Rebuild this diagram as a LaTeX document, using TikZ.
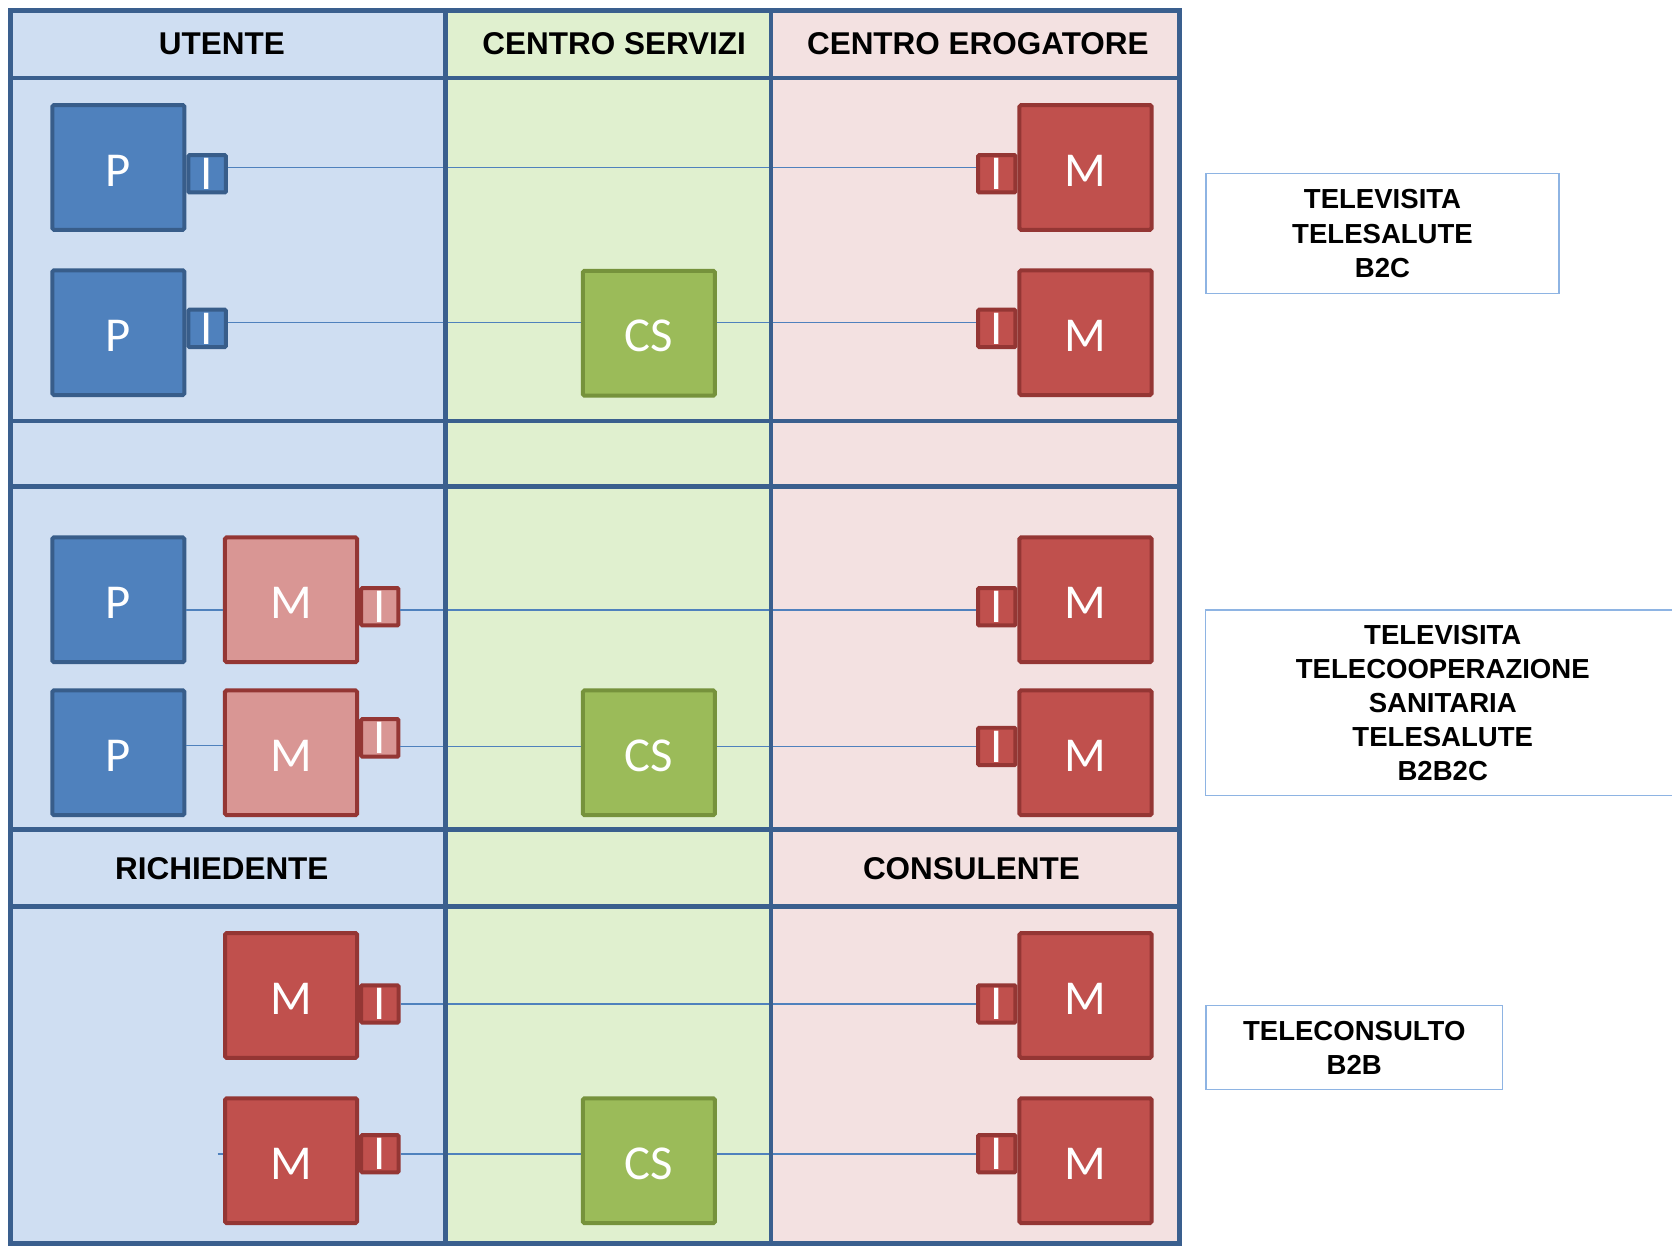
\documentclass[tikz,border=0pt]{standalone}
\usepackage{fontspec}
\newfontfamily\headfont{Liberation Sans}
\newfontfamily\boxfont{Carlito}
\usetikzlibrary{positioning}
\definecolor{framec}{HTML}{3A5F8E}
\definecolor{bluebg}{HTML}{CFDEF2}
\definecolor{greenbg}{HTML}{E0F0CF}
\definecolor{pinkbg}{HTML}{F3E1E1}
\definecolor{pfill}{HTML}{4F81BD}
\definecolor{pdraw}{HTML}{385D8A}
\definecolor{mfill}{HTML}{C0504D}
\definecolor{mdraw}{HTML}{943634}
\definecolor{lmfill}{HTML}{D99694}
\definecolor{csfill}{HTML}{9BBB59}
\definecolor{csdraw}{HTML}{76923C}
\definecolor{wirec}{HTML}{4F81BD}
\definecolor{labdraw}{HTML}{8EB4E3}
\tikzstyle{unit} =[rectangle, rounded corners=0.03cm, line width=0.075cm, minimum width=2.48cm, minimum height=2.34cm, text height=20pt, text depth=0pt, text=white, font=\boxfont\fontsize{26}{26}\selectfont]
\tikzstyle{pbox} =[unit, draw=pdraw, fill=pfill]
\tikzstyle{mbox} =[unit, draw=mdraw, fill=mfill]
\tikzstyle{mlight} =[unit, draw=mdraw, fill=lmfill]
\tikzstyle{csbox} =[unit, draw=csdraw, fill=csfill]
\tikzstyle{itab} =[rectangle, rounded corners=0.02cm, line width=0.075cm, minimum width=0.7cm, minimum height=0.7cm, inner sep=0pt, text depth=-4pt, text=white, font=\boxfont\fontsize{26}{26}\selectfont]
\tikzstyle{itabp} =[itab, draw=pdraw, fill=pfill]
\tikzstyle{itabm} =[itab, draw=mdraw, fill=mfill]
\tikzstyle{itabl} =[itab, draw=mdraw, fill=lmfill]
\tikzstyle{wire} =[line width=0.03cm, draw=wirec]
\tikzstyle{frameline} =[line width=0.085cm, draw=framec]
\tikzstyle{headtext} =[font=\headfont\bfseries\fontsize{16.8}{20}\selectfont]
\tikzstyle{labelbox} =[rectangle, draw=labdraw, line width=0.025cm, align=center, font=\headfont\bfseries\fontsize{14.7}{18.2}\selectfont]

\begin{document}
\begin{tikzpicture}[x=0.02cm, y=-0.02cm, node distance=3.1cm]
\useasboundingbox (0,0) rectangle (1568,1169);
\fill [bluebg] (10,10) rectangle (418,1166);
\fill [greenbg] (418,10) rectangle (723,1166);
\fill [pinkbg] (723,10) rectangle (1106,1166);

\node (hut) [headtext] at (208,41) {UTENTE};
\node (hcs) [headtext] at (576,41) {CENTRO SERVIZI};
\node (hce) [headtext] at (917,41) {CENTRO EROGATORE};
\node (hri) [headtext] at (208,815) {RICHIEDENTE};
\node (hco) [headtext] at (911,815) {CONSULENTE};

\node (p1) [pbox] at (111,157) {P};
\node (p2) [pbox, below of=p1] {P};
\node (m1) [mbox] at (1018,157) {M};
\node (m2) [mbox, below of=m1] {M};
\node (cs1) [csbox] at (608.5,312.5) {CS};
\node (ip1) [itabp, anchor=west, yshift=-0.12cm] at (p1.east) {I};
\node (ip2) [itabp, anchor=west, yshift=0.08cm] at (p2.east) {I};
\node (im1) [itabm, anchor=east, yshift=-0.12cm] at (m1.west) {I};
\node (im2) [itabm, anchor=east, yshift=0.08cm] at (m2.west) {I};

\node (p3) [pbox] at (111,562.5) {P};
\node (p4) [pbox, below of=p3, yshift=0.23cm] {P};
\node (ml3) [mlight, right of=p3, xshift=0.14cm] {M};
\node (ml4) [mlight, right of=p4, xshift=0.14cm] {M};
\node (m3) [mbox] at (1018,562.5) {M};
\node (m4) [mbox, below of=m3, yshift=0.23cm] {M};
\node (cs2) [csbox] at (608.5,706) {CS};
\node (il3) [itabl, anchor=west, yshift=-0.13cm] at (ml3.east) {I};
\node (il4) [itabl, anchor=west, yshift=0.28cm] at (ml4.east) {I};
\node (im3) [itabm, anchor=east, yshift=-0.13cm] at (m3.west) {I};
\node (im4) [itabm, anchor=east, yshift=0.12cm] at (m4.west) {I};

\node (mr5) [mbox] at (273,933.5) {M};
\node (mr6) [mbox, below of=mr5] {M};
\node (m5) [mbox] at (1018,933.5) {M};
\node (m6) [mbox, below of=m5] {M};
\node (cs3) [csbox] at (608.5,1088.5) {CS};
\node (ir5) [itabm, anchor=west, yshift=-0.16cm] at (mr5.east) {I};
\node (ir6) [itabm, anchor=west, yshift=0.13cm] at (mr6.east) {I};
\node (im5) [itabm, anchor=east, yshift=-0.16cm] at (m5.west) {I};
\node (im6) [itabm, anchor=east, yshift=0.13cm] at (m6.west) {I};
\coordinate (stub) at (204,1082);

\node (lab1) [labelbox, minimum width=6.62cm, minimum height=2.24cm] at (1296.5,219) {TELEVISITA\\TELESALUTE\\B2C};
\node (lab2) [labelbox, minimum width=8.9cm, minimum height=3.48cm] at (1353,659) {TELEVISITA\\TELECOOPERAZIONE\\SANITARIA\\TELESALUTE\\B2B2C};
\node (lab3) [labelbox, minimum width=5.56cm, minimum height=1.58cm] at (1270,982.5) {TELECONSULTO\\B2B};

\draw [wire] ([yshift=0.12cm]ip1.east) -- ([yshift=0.12cm]im1.west);
\draw [wire] ([yshift=0.11cm]ip2.east) -- ([yshift=0.11cm]ip2.east -| cs1.west);
\draw [wire] ([yshift=0.11cm]im2.west -| cs1.east) -- ([yshift=0.11cm]im2.west);
\draw [wire] ([yshift=-0.19cm]p3.east) -- ([yshift=-0.19cm]ml3.west);
\draw [wire] ([yshift=-0.06cm]il3.east) -- ([yshift=-0.06cm]im3.west);
\draw [wire] ([yshift=0.14cm]p4.east) -- ([yshift=0.14cm]ml4.west);
\draw [wire] ([yshift=-0.16cm]il4.east) -- ([yshift=-0.16cm]il4.east -| cs2.west);
\draw [wire] (im4.west -| cs2.east) -- (im4.west);
\draw [wire] (ir5.east) -- (im5.west);
\draw [wire] (stub) -- (stub -| mr6.west);
\draw [wire] (ir6.east) -- (ir6.east -| cs3.west);
\draw [wire] (im6.west -| cs3.east) -- (im6.west);

\draw [frameline] (10,10) rectangle (1106,1166);
\draw [frameline] (418,10) -- (418,1166);
\draw [frameline] (723,10) -- (723,1166);
\draw [frameline] (10,73) -- (1106,73);
\draw [frameline] (10,395) -- (1106,395);
\draw [frameline] (10,456) -- (1106,456);
\draw [frameline] (10,778) -- (1106,778);
\draw [frameline] (10,850) -- (1106,850);
\end{tikzpicture}
\end{document}
